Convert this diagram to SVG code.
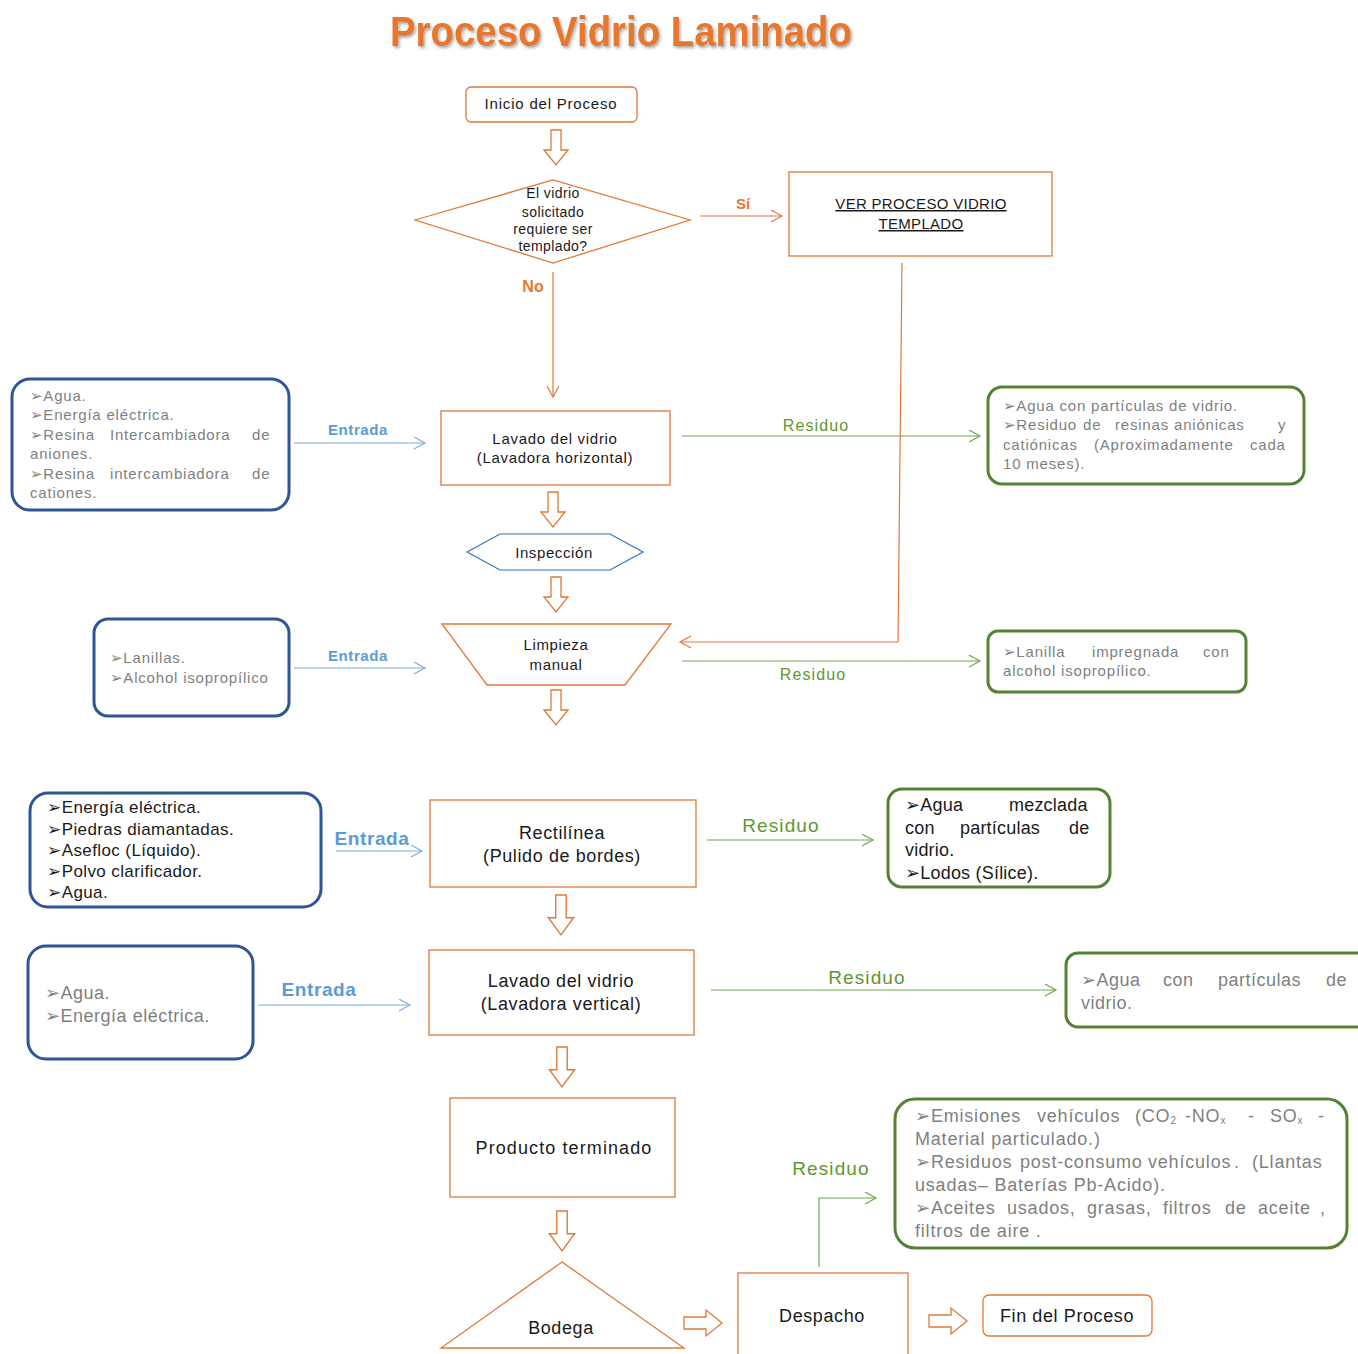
<svg xmlns="http://www.w3.org/2000/svg" width="1358" height="1354" viewBox="0 0 1358 1354">
<defs>
<style>
.t{font-family:"Liberation Sans","DejaVu Sans",Arial,sans-serif;fill:#1a1a1a;letter-spacing:0.6px}
.c{text-anchor:middle}
.g{fill:#7f7f7f;letter-spacing:0.8px}
.o{fill:none;stroke:#E0783A;stroke-width:1.3}
.bb{fill:#fff;stroke:#2F5597;stroke-width:3}
.gb{fill:#fff;stroke:#548235;stroke-width:3}
.ent{font-family:"Liberation Sans",Arial,sans-serif;font-weight:bold;fill:#5B9BD5;text-anchor:middle;letter-spacing:0.6px}
.res{font-family:"Liberation Sans",Arial,sans-serif;fill:#5E9732;text-anchor:middle;letter-spacing:1.1px}
.lo{stroke:#E0783A;stroke-width:1.2;fill:none}
.lg{stroke:#6AA84F;stroke-width:1.2;fill:none}
.lb{stroke:#7FAEDC;stroke-width:1.2;fill:none}
.blk{fill:#fff;stroke:#E0783A;stroke-width:1.3}
</style>
<marker id="mo" markerUnits="userSpaceOnUse" markerWidth="14" markerHeight="14" refX="12" refY="6" orient="auto"><path d="M1,0 L12,6 L1,12" fill="none" stroke="#E0783A" stroke-width="1.2"/></marker>
<marker id="mg" markerUnits="userSpaceOnUse" markerWidth="14" markerHeight="14" refX="12" refY="6" orient="auto"><path d="M1,0 L12,6 L1,12" fill="none" stroke="#6AA84F" stroke-width="1.2"/></marker>
<marker id="mb" markerUnits="userSpaceOnUse" markerWidth="14" markerHeight="14" refX="12" refY="6" orient="auto"><path d="M1,0 L12,6 L1,12" fill="none" stroke="#7FAEDC" stroke-width="1.2"/></marker>
<path id="dn" d="M-5,0 H5 V20 H12 L0,35 L-12,20 H-5 Z"/>
<path id="rt" d="M0,-6 H22 V-13 L38,0 L22,13 V6 H0 Z"/>
<filter id="sh" x="-5%" y="-20%" width="110%" height="150%"><feDropShadow dx="1.5" dy="2" stdDeviation="1.5" flood-color="#000" flood-opacity="0.35"/></filter>
</defs>
<rect width="1358" height="1354" fill="#fff"/>

<text x="621" y="46" class="c" font-family="Liberation Sans,Arial,sans-serif" font-weight="bold" font-size="42" fill="#E8772E" filter="url(#sh)" textLength="462" lengthAdjust="spacingAndGlyphs">Proceso Vidrio Laminado</text>

<g id="connectors">
<use href="#dn" x="556" y="130" class="blk"/>
<line x1="700" y1="216" x2="782" y2="216" class="lo" marker-end="url(#mo)"/>
<line x1="553" y1="272" x2="553" y2="397" class="lo" marker-end="url(#mo)"/>
<polyline points="902,263 898,642 680,642" class="lo" marker-end="url(#mo)"/>
<line x1="294" y1="443" x2="425" y2="443" class="lb" marker-end="url(#mb)"/>
<line x1="682" y1="436" x2="980" y2="436" class="lg" marker-end="url(#mg)"/>
<use href="#dn" x="553" y="492" class="blk"/>
<use href="#dn" x="556" y="577" class="blk"/>
<line x1="294" y1="668" x2="425" y2="668" class="lb" marker-end="url(#mb)"/>
<line x1="682" y1="661" x2="980" y2="661" class="lg" marker-end="url(#mg)"/>
<use href="#dn" x="556" y="690" class="blk"/>
<line x1="336" y1="851" x2="422" y2="851" class="lb" marker-end="url(#mb)"/>
<line x1="707" y1="840" x2="873" y2="840" class="lg" marker-end="url(#mg)"/>
<use href="#dn" x="561" y="895" class="blk" transform="translate(561 895) scale(1.05 1.14) translate(-561 -895)"/>
<line x1="258" y1="1005" x2="410" y2="1005" class="lb" marker-end="url(#mb)"/>
<line x1="711" y1="990" x2="1056" y2="990" class="lg" marker-end="url(#mg)"/>
<use href="#dn" x="562" y="1047" class="blk" transform="translate(562 1047) scale(1.05 1.14) translate(-562 -1047)"/>
<use href="#dn" x="562" y="1211" class="blk" transform="translate(562 1211) scale(1.05 1.14) translate(-562 -1211)"/>
<use href="#rt" x="684" y="1323" class="blk"/>
<use href="#rt" x="929" y="1321" class="blk"/>
<polyline points="819,1267 819,1198 876,1198" class="lg" marker-end="url(#mg)"/>
<text x="743" y="209" font-family="Liberation Sans,Arial,sans-serif" font-weight="bold" font-size="15" fill="#E8772E" text-anchor="middle">Sí</text>
<text x="533" y="292" font-family="Liberation Sans,Arial,sans-serif" font-weight="bold" font-size="16" fill="#E8772E" text-anchor="middle">No</text>
<text x="358" y="435" class="ent" font-size="15">Entrada</text>
<text x="816" y="431" class="res" font-size="16">Residuo</text>
<text x="358" y="661" class="ent" font-size="15">Entrada</text>
<text x="813" y="680" class="res" font-size="16">Residuo</text>
<text x="372" y="845" class="ent" font-size="19">Entrada</text>
<text x="781" y="832" class="res" font-size="19">Residuo</text>
<text x="319" y="996" class="ent" font-size="19">Entrada</text>
<text x="867" y="984" class="res" font-size="19">Residuo</text>
<text x="831" y="1175" class="res" font-size="19">Residuo</text>
</g>

<g id="inicio">
<rect x="466" y="87" width="171" height="35" rx="5" class="o"/>
<text x="551" y="109" class="t c" font-size="15" style="letter-spacing:0.8px">Inicio del Proceso</text>
</g>

<g id="decision">
<polygon points="415,220 553,180 690,220 553,263" class="o"/>
<text class="t c" font-size="14" style="letter-spacing:0.4px"><tspan x="553" y="198">El vidrio</tspan><tspan x="553" y="217">solicitado</tspan><tspan x="553" y="234">requiere ser</tspan><tspan x="553" y="251">templado?</tspan></text>
</g>

<g id="ver-templado">
<rect x="789" y="172" width="263" height="84" class="o"/>
<text class="t c" font-size="15" text-decoration="underline" style="letter-spacing:0.3px"><tspan x="921" y="209">VER PROCESO VIDRIO</tspan><tspan x="921" y="229">TEMPLADO</tspan></text>
</g>

<g id="entrada1">
<rect x="12" y="379" width="277" height="131" rx="18" class="bb"/>
<text class="t g" font-size="15">
<tspan x="30" y="401">➢Agua.</tspan>
<tspan x="30" y="420">➢Energía eléctrica.</tspan>
<tspan x="30" y="440">➢Resina</tspan><tspan x="110" y="440">Intercambiadora</tspan><tspan x="252" y="440">de</tspan>
<tspan x="30" y="459">aniones.</tspan>
<tspan x="30" y="479">➢Resina</tspan><tspan x="110" y="479">intercambiadora</tspan><tspan x="252" y="479">de</tspan>
<tspan x="30" y="498">cationes.</tspan>
</text>
</g>

<g id="lavado-horizontal">
<rect x="441" y="411" width="229" height="74" class="o"/>
<text class="t c" font-size="15" style="letter-spacing:0.7px"><tspan x="555" y="444">Lavado del vidrio</tspan><tspan x="555" y="463">(Lavadora horizontal)</tspan></text>
</g>

<g id="residuo1">
<rect x="988" y="387" width="316" height="97" rx="14" class="gb"/>
<text class="t g" font-size="15">
<tspan x="1003" y="411">➢Agua con partículas de vidrio.</tspan>
<tspan x="1003" y="430">➢Residuo</tspan><tspan x="1083" y="430">de</tspan><tspan x="1115" y="430">resinas</tspan><tspan x="1174" y="430">aniónicas</tspan><tspan x="1278" y="430">y</tspan>
<tspan x="1003" y="450">catiónicas</tspan><tspan x="1094" y="450">(Aproximadamente</tspan><tspan x="1250" y="450">cada</tspan>
<tspan x="1003" y="469">10 meses).</tspan>
</text>
</g>

<g id="inspeccion">
<polygon points="467,552 500,534 610,534 643,552 610,570 500,570" fill="#fff" stroke="#2E75B6" stroke-width="1.2"/>
<text x="554" y="558" class="t c" font-size="15">Inspección</text>
</g>

<g id="entrada2">
<rect x="94" y="619" width="195" height="97" rx="14" class="bb"/>
<text class="t g" font-size="15"><tspan x="110" y="663">➢Lanillas.</tspan><tspan x="110" y="683">➢Alcohol isopropílico</tspan></text>
</g>

<g id="limpieza">
<polygon points="442,624 671,624 625,685 487,685" class="o"/>
<text class="t c" font-size="15"><tspan x="556" y="650">Limpieza</tspan><tspan x="556" y="670">manual</tspan></text>
</g>

<g id="residuo2">
<rect x="988" y="631" width="258" height="61" rx="10" class="gb"/>
<text class="t g" font-size="15">
<tspan x="1003" y="657">➢Lanilla</tspan><tspan x="1092" y="657">impregnada</tspan><tspan x="1203" y="657">con</tspan>
<tspan x="1003" y="676">alcohol isopropílico.</tspan>
</text>
</g>

<g id="entrada3">
<rect x="30" y="793" width="291" height="114" rx="18" class="bb"/>
<text class="t" font-size="17" style="letter-spacing:0.4px">
<tspan x="47" y="813">➢Energía eléctrica.</tspan>
<tspan x="47" y="835">➢Piedras diamantadas.</tspan>
<tspan x="47" y="856">➢Asefloc (Líquido).</tspan>
<tspan x="47" y="877">➢Polvo clarificador.</tspan>
<tspan x="47" y="898">➢Agua.</tspan>
</text>
</g>

<g id="rectilinea">
<rect x="430" y="800" width="266" height="87" class="o"/>
<text class="t c" font-size="18"><tspan x="562" y="839">Rectilínea</tspan><tspan x="562" y="862">(Pulido de bordes)</tspan></text>
</g>

<g id="residuo3">
<rect x="888" y="789" width="222" height="98" rx="14" class="gb"/>
<text class="t" font-size="18" style="letter-spacing:0.2px">
<tspan x="905" y="811">➢Agua</tspan><tspan x="1009" y="811">mezclada</tspan>
<tspan x="905" y="834">con</tspan><tspan x="960" y="834">partículas</tspan><tspan x="1069" y="834">de</tspan>
<tspan x="905" y="856">vidrio.</tspan>
<tspan x="905" y="879">➢Lodos (Sílice).</tspan>
</text>
</g>

<g id="entrada4">
<rect x="28" y="946" width="225" height="113" rx="18" class="bb"/>
<text class="t g" font-size="18" style="letter-spacing:0.5px"><tspan x="45" y="999">➢Agua.</tspan><tspan x="45" y="1022">➢Energía eléctrica.</tspan></text>
</g>

<g id="lavado-vertical">
<rect x="429" y="950" width="265" height="85" class="o"/>
<text class="t c" font-size="18"><tspan x="561" y="987">Lavado del vidrio</tspan><tspan x="561" y="1010">(Lavadora vertical)</tspan></text>
</g>

<g id="residuo4">
<rect x="1066" y="953" width="310" height="74" rx="12" class="gb"/>
<text class="t g" font-size="18" style="letter-spacing:0.5px">
<tspan x="1081" y="986">➢Agua</tspan><tspan x="1163" y="986">con</tspan><tspan x="1218" y="986">partículas</tspan><tspan x="1326" y="986">de</tspan>
<tspan x="1081" y="1009">vidrio.</tspan>
</text>
</g>

<g id="producto-terminado">
<rect x="450" y="1098" width="225" height="99" class="o"/>
<text x="564" y="1154" class="t c" font-size="18" style="letter-spacing:1.1px">Producto terminado</text>
</g>

<g id="residuo5">
<rect x="895" y="1099" width="452" height="149" rx="20" class="gb"/>
<text class="t g" font-size="18">
<tspan x="915" y="1122">➢Emisiones</tspan><tspan x="1037" y="1122">vehículos</tspan><tspan x="1135" y="1122">(CO</tspan><tspan font-size="10" dy="2">2</tspan><tspan x="1185" y="1122">-NO</tspan><tspan font-size="10" dy="2">x</tspan><tspan x="1248" y="1122">-</tspan><tspan x="1270" y="1122">SO</tspan><tspan font-size="10" dy="2">x</tspan><tspan x="1318" y="1122">-</tspan>
<tspan x="915" y="1145">Material particulado.)</tspan>
<tspan x="915" y="1168">➢Residuos</tspan><tspan x="1020" y="1168">post-consumo</tspan><tspan x="1148" y="1168">vehículos</tspan><tspan x="1234" y="1168">.</tspan><tspan x="1252" y="1168">(Llantas</tspan>
<tspan x="915" y="1191">usadas– Baterías Pb-Acido).</tspan>
<tspan x="915" y="1214">➢Aceites</tspan><tspan x="1007" y="1214">usados,</tspan><tspan x="1087" y="1214">grasas,</tspan><tspan x="1163" y="1214">filtros</tspan><tspan x="1225" y="1214">de</tspan><tspan x="1258" y="1214">aceite</tspan><tspan x="1320" y="1214">,</tspan>
<tspan x="915" y="1237">filtros de aire .</tspan>
</text>
</g>

<g id="bodega">
<polygon points="562,1262 684,1348 441,1348" class="o"/>
<text x="561" y="1334" class="t c" font-size="18">Bodega</text>
</g>

<g id="despacho">
<rect x="738" y="1273" width="170" height="100" class="o"/>
<text x="822" y="1322" class="t c" font-size="18">Despacho</text>
</g>

<g id="fin">
<rect x="983" y="1295" width="169" height="41" rx="6" class="o"/>
<text x="1067" y="1322" class="t c" font-size="18">Fin del Proceso</text>
</g>
</svg>
